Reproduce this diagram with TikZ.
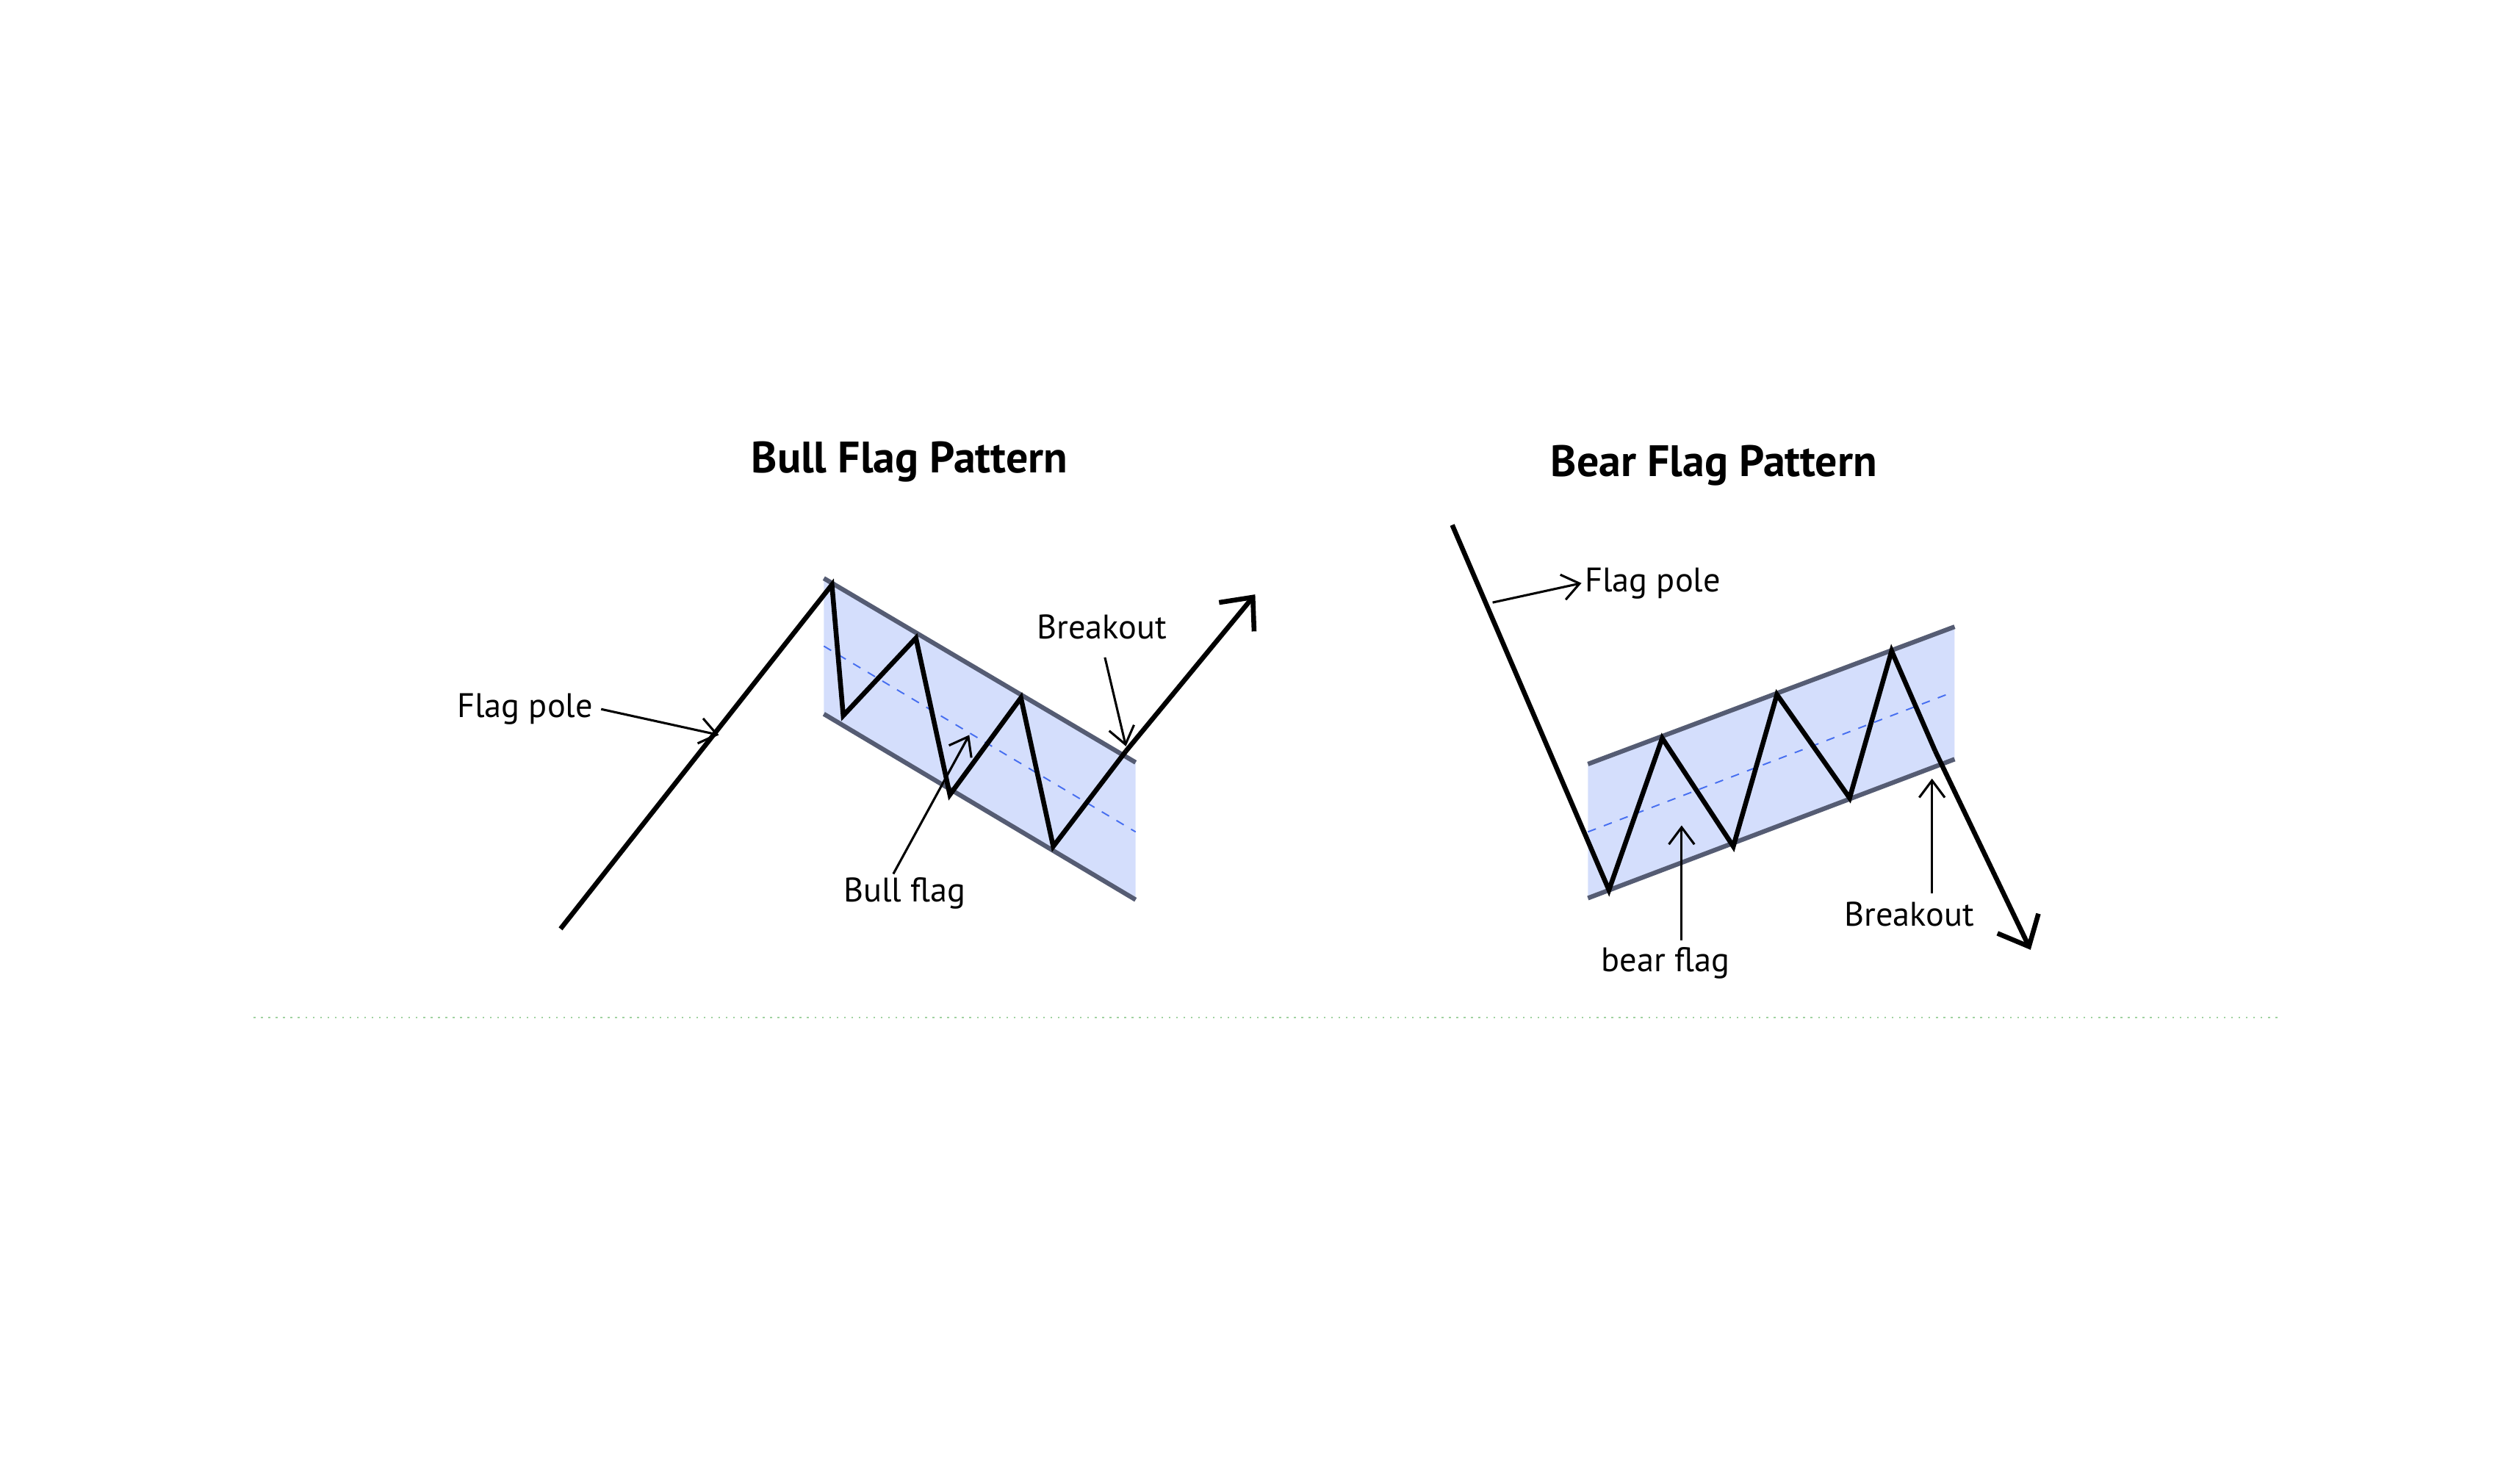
\documentclass[tikz,border=0pt]{standalone}
\usepackage{fontspec}
\setmainfont{PT Sans}
\usetikzlibrary{arrows.meta}
\definecolor{flagfill}{RGB}{212,222,252}
\definecolor{edge}{RGB}{85,92,115}
\definecolor{mid}{RGB}{70,110,240}
\definecolor{sep}{RGB}{160,210,160}
\begin{document}
\begin{tikzpicture}[x=0.02cm,y=-0.02cm,
  main/.style={line width=1.7pt,line join=miter},
  chan/.style={line width=1.6pt,draw=edge},
  midl/.style={mid,dashed,line width=0.5pt},
  ann/.style={line width=0.8pt,-{Straight Barb[length=6pt,width=9pt,line width=0.8pt]}},
  big/.style={-{Straight Barb[length=9pt,width=16pt,line width=1.7pt]}},
  lbl/.style={font=\fontsize{12}{14}\selectfont,inner sep=1pt},
  ttl/.style={font=\bfseries\fontsize{15.5}{18}\selectfont}]
\useasboundingbox (0,0) rectangle (1560,905);
% ---------- Bull ----------
\node[ttl] (t1) at (563,286) {Bull Flag Pattern};
\fill[flagfill] (510,358) -- (703,472) -- (703,557) -- (510,442) -- cycle;
\draw[chan] (510,358) -- (703,472);
\draw[chan] (510,442) -- (703,557);
\draw[midl] (510,400) -- (703,515);
\coordinate (p0) at (347,575);
\coordinate (p1) at (515,362);
\draw[main] (p0) -- (p1) -- (522,443) -- (567,395) -- (588,492) -- (632,432) -- (652,524) -- (697,465);
\draw[main,big] (697,465) -- (777,368);
\node[lbl] (fp1) at (325,439) {Flag pole};
\coordinate (fp1t) at (445,455);
\draw[ann] (fp1.east) ++(3,0) -- (fp1t);
\node[lbl] (bf1) at (560,553) {Bull flag};
\coordinate (bf1t) at (600,455);
\draw[ann] (553,541) -- (bf1t);
\node[lbl] (bo1) at (682,388) {Breakout};
\coordinate (bo1t) at (697,462);
\draw[ann] (684,407) -- (bo1t);
% ---------- Bear ----------
\node[ttl] (t2) at (1061,288) {Bear Flag Pattern};
\fill[flagfill] (983,473) -- (1210,388) -- (1210,470) -- (983,556) -- cycle;
\draw[chan] (983,473) -- (1210,388);
\draw[chan] (983,556) -- (1210,470);
\draw[midl] (983,515) -- (1205,430);
\coordinate (q0) at (899,325);
\draw[main] (q0) -- (996,551) -- (1029,457) -- (1073,524) -- (1100,430) -- (1145,494) -- (1171,403) -- (1198,465);
\draw[main,big] (1198,465) -- (1257,588);
\node[lbl,anchor=west] (fp2) at (979,361) {Flag pole};
\draw[ann] (924,373) -- (fp2.west);
\node[lbl] (bf2) at (1031,596) {bear flag};
\coordinate (bf2t) at (1041,511);
\draw[ann] (1041,582) -- (bf2t);
\node[lbl] (bo2) at (1182,566) {Breakout};
\coordinate (bo2t) at (1196,482);
\draw[ann] (1196,553) -- (bo2t);
% separator
\coordinate (s0) at (157,630);
\coordinate (s1) at (1410,630);
\draw[sep,dotted,line width=0.6pt] (s0) -- (s1);
\end{tikzpicture}
\end{document}
